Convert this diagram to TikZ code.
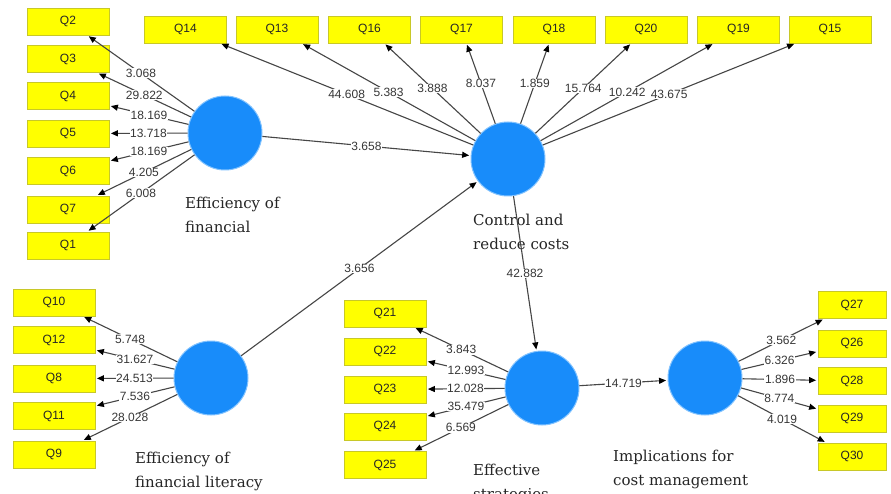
\documentclass[tikz,border=0pt]{standalone}
\usepackage{fontspec}
\setmainfont{DejaVu Serif}
\newfontfamily\lblfont{Liberation Sans}
\usetikzlibrary{arrows.meta}
\definecolor{qyellow}{RGB}{255,255,0}
\definecolor{qborder}{RGB}{200,200,40}
\definecolor{lvblue}{RGB}{24,140,250}
\definecolor{lvedge}{RGB}{130,195,255}
\definecolor{lineg}{RGB}{70,70,70}
\definecolor{numg}{RGB}{55,55,55}
\begin{document}
\begin{tikzpicture}[x=1pt,y=-1pt,
  qbox/.style={draw=qborder, line width=0.8pt, fill=qyellow, minimum width=82pt, minimum height=27pt, inner sep=0pt,
    font=\lblfont\fontsize{12}{12}\selectfont, text=black!85},
  qboxr/.style={qbox, minimum width=68pt},
  lv/.style={circle, fill=lvblue, draw=lvedge, line width=1pt, minimum size=74pt, inner sep=0pt},
  ind/.style={draw=lineg, line width=1.1pt, -{Triangle[length=7pt,width=6pt,color=black]}, shorten >=1.5pt},
  wt/.style={fill=white, inner sep=0.6pt, font=\lblfont\fontsize{12}{12}\selectfont, text=numg},
  lvname/.style={anchor=north west, align=left, inner sep=0pt, font=\fontsize{15}{24}\selectfont, text=black!85}]
\useasboundingbox (0,0) rectangle (891,494);
\fill[white] (0,0) rectangle (891,494);

% latent variables
\node[lv] (fin) at (225,133) {};
\node[lv] (ctrl) at (508,159) {};
\node[lv] (lit) at (211,378) {};
\node[lv] (eff) at (542,388) {};
\node[lv] (imp) at (705,378) {};

% latent names
\node[lvname] (finname) at (185,196.6) {Efficiency of\\financial};
\node[lvname] (ctrlname) at (473,213.6) {Control and\\reduce costs};
\node[lvname] (litname) at (135,451.6) {Efficiency of\\financial literacy};
\node[lvname] (effname) at (473,463.6) {Effective\\strategies};
\node[lvname] (impname) at (613,449.6) {Implications for\\cost management};

% left column 1
\node[qbox] (Q2) at (68,21.5) {Q2};
\node[qbox] (Q3) at (68,59) {Q3};
\node[qbox] (Q4) at (68,96) {Q4};
\node[qbox] (Q5) at (68,133.5) {Q5};
\node[qbox] (Q6) at (68,171) {Q6};
\node[qbox] (Q7) at (68,209.5) {Q7};
\node[qbox] (Q1) at (68,245.5) {Q1};

% top row
\node[qbox] (Q14) at (185.5,29.5) {Q14};
\node[qbox] (Q13) at (277,29.5) {Q13};
\node[qbox] (Q16) at (369.5,29.5) {Q16};
\node[qbox] (Q17) at (461.5,29.5) {Q17};
\node[qbox] (Q18) at (554,29.5) {Q18};
\node[qbox] (Q20) at (646,29.5) {Q20};
\node[qbox] (Q19) at (738.5,29.5) {Q19};
\node[qbox] (Q15) at (830,29.5) {Q15};

% left column 2
\node[qbox] (Q10) at (54,302.5) {Q10};
\node[qbox] (Q12) at (54,340) {Q12};
\node[qbox] (Q8) at (54,378.5) {Q8};
\node[qbox] (Q11) at (54,416) {Q11};
\node[qbox] (Q9) at (54,454.5) {Q9};

% effective column
\node[qbox] (Q21) at (385,313.5) {Q21};
\node[qbox] (Q22) at (385,351.5) {Q22};
\node[qbox] (Q23) at (385,389.5) {Q23};
\node[qbox] (Q24) at (385,426.5) {Q24};
\node[qbox] (Q25) at (385,465) {Q25};

% right column
\node[qboxr] (Q27) at (852,305) {Q27};
\node[qboxr] (Q26) at (852,343.5) {Q26};
\node[qboxr] (Q28) at (852,381) {Q28};
\node[qboxr] (Q29) at (852,418.5) {Q29};
\node[qboxr] (Q30) at (852,456.5) {Q30};

% indicators of fin
\draw[ind] (fin) -- node[wt]{3.068} (Q2);
\draw[ind] (fin) -- node[wt]{29.822} (Q3);
\draw[ind] (fin) -- node[wt]{18.169} (Q4);
\draw[ind] (fin) -- node[wt]{13.718} (Q5);
\draw[ind] (fin) -- node[wt]{18.169} (Q6);
\draw[ind] (fin) -- node[wt]{4.205} (Q7);
\draw[ind] (fin) -- node[wt]{6.008} (Q1);

% indicators of ctrl
\draw[ind] (ctrl) -- node[wt]{44.608} (Q14);
\draw[ind] (ctrl) -- node[wt]{5.383} (Q13);
\draw[ind] (ctrl) -- node[wt]{3.888} (Q16);
\draw[ind] (ctrl) -- node[wt]{8.037} (Q17);
\draw[ind] (ctrl) -- node[wt]{1.859} (Q18);
\draw[ind] (ctrl) -- node[wt]{15.764} (Q20);
\draw[ind] (ctrl) -- node[wt]{10.242} (Q19);
\draw[ind] (ctrl) -- node[wt]{43.675} (Q15);

% indicators of lit
\draw[ind] (lit) -- node[wt]{5.748} (Q10);
\draw[ind] (lit) -- node[wt]{31.627} (Q12);
\draw[ind] (lit) -- node[wt]{24.513} (Q8);
\draw[ind] (lit) -- node[wt]{7.536} (Q11);
\draw[ind] (lit) -- node[wt]{28.028} (Q9);

% indicators of eff
\draw[ind] (eff) -- node[wt]{3.843} (Q21);
\draw[ind] (eff) -- node[wt]{12.993} (Q22);
\draw[ind] (eff) -- node[wt]{12.028} (Q23);
\draw[ind] (eff) -- node[wt]{35.479} (Q24);
\draw[ind] (eff) -- node[wt]{6.569} (Q25);

% indicators of imp
\draw[ind] (imp) -- node[wt]{3.562} (Q27);
\draw[ind] (imp) -- node[wt]{6.326} (Q26);
\draw[ind] (imp) -- node[wt]{1.896} (Q28);
\draw[ind] (imp) -- node[wt]{8.774} (Q29);
\draw[ind] (imp) -- node[wt]{4.019} (Q30);

% structural paths
\draw[ind] (fin) -- node[wt]{3.658} (ctrl);
\draw[ind] (lit) -- node[wt]{3.656} (ctrl);
\draw[ind] (ctrl) -- node[wt]{42.882} (eff);
\draw[ind] (eff) -- node[wt]{14.719} (imp);
\end{tikzpicture}
\end{document}
